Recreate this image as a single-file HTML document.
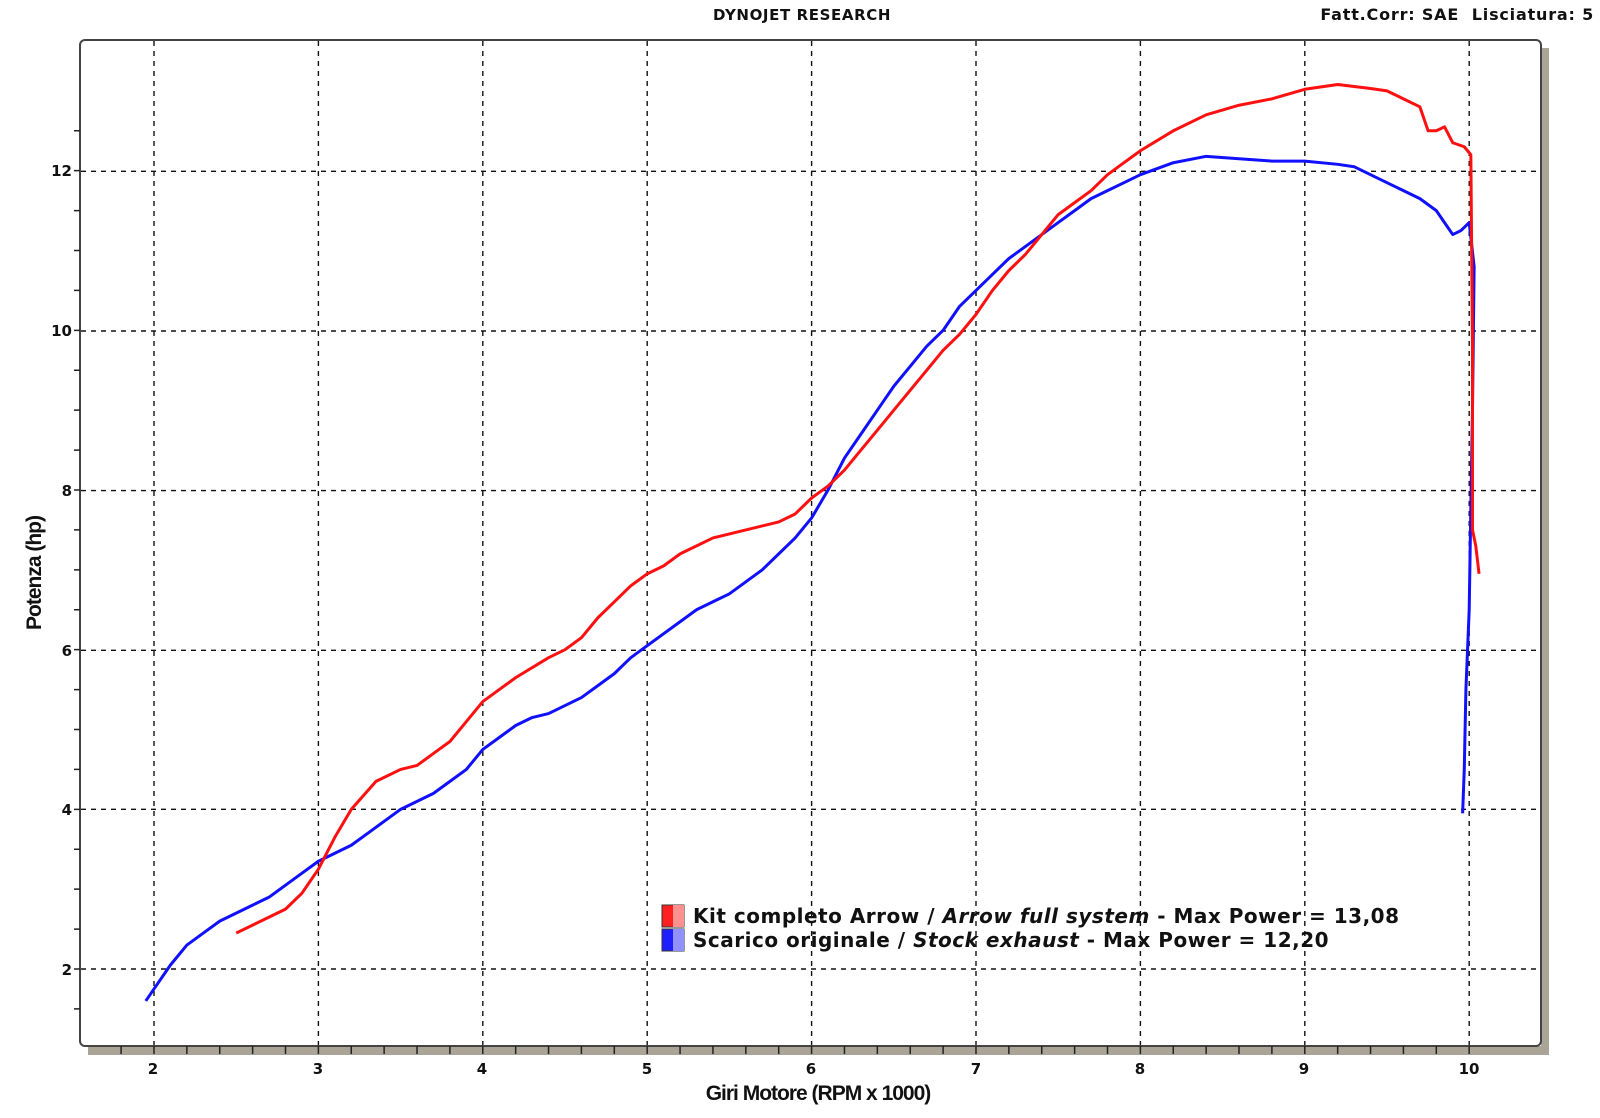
<!DOCTYPE html>
<html><head><meta charset="utf-8"><style>
html,body{margin:0;padding:0;background:#fff;}
svg{display:block;}
text{font-family:"DejaVu Sans","Liberation Sans",sans-serif;font-weight:bold;fill:#111;}
</style></head><body>
<svg width="1600" height="1118" viewBox="0 0 1600 1118" xmlns="http://www.w3.org/2000/svg">
<rect x="88" y="1046" width="1461" height="9" fill="#a9a496"/>
<rect x="1541" y="48" width="8" height="1007" fill="#a9a496"/>
<rect x="80" y="40" width="1461" height="1006" rx="5" fill="#fff" stroke="#444" stroke-width="2"/>
<g stroke="#111" stroke-width="1.4" stroke-dasharray="5,5" fill="none">
<line x1="154" y1="41" x2="154" y2="1045"/><line x1="318.4" y1="41" x2="318.4" y2="1045"/>
<line x1="482.8" y1="41" x2="482.8" y2="1045"/><line x1="647.2" y1="41" x2="647.2" y2="1045"/>
<line x1="811.6" y1="41" x2="811.6" y2="1045"/><line x1="976" y1="41" x2="976" y2="1045"/>
<line x1="1140.4" y1="41" x2="1140.4" y2="1045"/><line x1="1304.8" y1="41" x2="1304.8" y2="1045"/>
<line x1="1469.2" y1="41" x2="1469.2" y2="1045"/>
<line x1="81" y1="171.3" x2="1540" y2="171.3"/><line x1="81" y1="331" x2="1540" y2="331"/>
<line x1="81" y1="490.6" x2="1540" y2="490.6"/><line x1="81" y1="650.3" x2="1540" y2="650.3"/>
<line x1="81" y1="809.3" x2="1540" y2="809.3"/><line x1="81" y1="969" x2="1540" y2="969"/>
</g>
<path stroke="#222" stroke-width="1.5" fill="none" d="M121.1,1046 v8 m32.88,-8 v8 m32.88,-8 v8 m32.88,-8 v8 m32.88,-8 v8 m32.88,-8 v8 m32.88,-8 v8 m32.88,-8 v8 m32.88,-8 v8 m32.88,-8 v8 m32.88,-8 v8 m32.88,-8 v8 m32.88,-8 v8 m32.88,-8 v8 m32.88,-8 v8 m32.88,-8 v8 m32.88,-8 v8 m32.88,-8 v8 m32.88,-8 v8 m32.88,-8 v8 m32.88,-8 v8 m32.88,-8 v8 m32.88,-8 v8 m32.88,-8 v8 m32.88,-8 v8 m32.88,-8 v8 m32.88,-8 v8 m32.88,-8 v8 m32.88,-8 v8 m32.88,-8 v8 m32.88,-8 v8 m32.88,-8 v8 m32.88,-8 v8 m32.88,-8 v8 m32.88,-8 v8 m32.88,-8 v8 m32.88,-8 v8 m32.88,-8 v8 m32.88,-8 v8 m32.88,-8 v8 m32.88,-8 v8 m32.88,-8 v8"/>
<path stroke="#222" stroke-width="1.5" fill="none" d="M74,1008.9 h6 m-6,-39.915 h6 m-6,-39.915 h6 m-6,-39.915 h6 m-6,-39.915 h6 m-6,-39.915 h6 m-6,-39.915 h6 m-6,-39.915 h6 m-6,-39.915 h6 m-6,-39.915 h6 m-6,-39.915 h6 m-6,-39.915 h6 m-6,-39.915 h6 m-6,-39.915 h6 m-6,-39.915 h6 m-6,-39.915 h6 m-6,-39.915 h6 m-6,-39.915 h6 m-6,-39.915 h6 m-6,-39.915 h6 m-6,-39.915 h6 m-6,-39.915 h6 m-6,-39.915 h6"/>
<g font-size="15" text-anchor="end">
<text x="72" y="176">12</text><text x="72" y="336">10</text><text x="72" y="496">8</text>
<text x="72" y="656">6</text><text x="72" y="815">4</text><text x="72" y="975">2</text>
</g>
<g font-size="15" text-anchor="middle">
<text x="153" y="1074">2</text><text x="318" y="1074">3</text><text x="482" y="1074">4</text>
<text x="647" y="1074">5</text><text x="811" y="1074">6</text><text x="976" y="1074">7</text>
<text x="1140" y="1074">8</text><text x="1304" y="1074">9</text><text x="1469" y="1074">10</text>
</g>
<text x="802" y="20" font-size="15" text-anchor="middle" style="letter-spacing:0.6px">DYNOJET RESEARCH</text>
<text x="1594" y="20" font-size="16" text-anchor="end" style="letter-spacing:0.8px;white-space:pre" xml:space="preserve">Fatt.Corr: SAE  Lisciatura: 5</text>
<text x="818" y="1100" font-size="21" text-anchor="middle" style="font-family:'Liberation Sans',sans-serif;letter-spacing:-1px">Giri Motore (RPM x 1000)</text>
<text transform="translate(41,573) rotate(-90)" font-size="21" text-anchor="middle" style="font-family:'Liberation Sans',sans-serif;letter-spacing:-1px">Potenza (hp)</text>
<g transform="translate(-174.8,1128.66) scale(164.4,-79.83)" fill="none" stroke-linejoin="round">
<polyline vector-effect="non-scaling-stroke" stroke="#1010ff" stroke-width="3" points="1.95,1.6 2.0,1.75 2.1,2.05 2.2,2.3 2.3,2.45 2.4,2.6 2.5,2.7 2.6,2.8 2.7,2.9 2.8,3.05 2.9,3.2 3.0,3.35 3.1,3.45 3.2,3.55 3.3,3.7 3.4,3.85 3.5,4.0 3.6,4.1 3.7,4.2 3.8,4.35 3.9,4.5 4.0,4.75 4.1,4.9 4.2,5.05 4.3,5.15 4.4,5.2 4.5,5.3 4.6,5.4 4.7,5.55 4.8,5.7 4.9,5.9 5.0,6.05 5.1,6.2 5.2,6.35 5.3,6.5 5.4,6.6 5.5,6.7 5.6,6.85 5.7,7.0 5.8,7.2 5.9,7.4 6.0,7.65 6.1,8.0 6.2,8.4 6.3,8.7 6.4,9.0 6.5,9.3 6.6,9.55 6.7,9.8 6.8,10.0 6.9,10.3 7.0,10.5 7.1,10.7 7.2,10.9 7.3,11.05 7.4,11.2 7.5,11.35 7.6,11.5 7.7,11.65 7.8,11.75 7.9,11.85 8.0,11.95 8.2,12.1 8.4,12.18 8.6,12.15 8.8,12.12 9.0,12.12 9.2,12.08 9.3,12.05 9.4,11.95 9.5,11.85 9.6,11.75 9.7,11.65 9.8,11.5 9.85,11.35 9.9,11.2 9.95,11.25 10.0,11.35 10.03,10.8 10.02,9.0 10.01,7.8 10.0,6.5 9.98,5.5 9.97,4.5 9.96,3.95"/>
<polyline vector-effect="non-scaling-stroke" stroke="#ff1010" stroke-width="3" points="2.5,2.45 2.6,2.55 2.8,2.75 2.9,2.95 3.0,3.25 3.1,3.65 3.2,4.0 3.35,4.35 3.5,4.5 3.6,4.55 3.7,4.7 3.8,4.85 3.9,5.1 4.0,5.35 4.1,5.5 4.2,5.65 4.4,5.9 4.5,6.0 4.6,6.15 4.7,6.4 4.8,6.6 4.9,6.8 5.0,6.95 5.1,7.05 5.2,7.2 5.4,7.4 5.6,7.5 5.8,7.6 5.9,7.7 6.0,7.9 6.1,8.05 6.2,8.25 6.3,8.5 6.4,8.75 6.5,9.0 6.6,9.25 6.7,9.5 6.8,9.75 6.9,9.95 7.0,10.2 7.1,10.5 7.2,10.75 7.3,10.95 7.4,11.2 7.5,11.45 7.6,11.6 7.7,11.75 7.8,11.95 7.9,12.1 8.0,12.25 8.2,12.5 8.4,12.7 8.6,12.82 8.8,12.9 9.0,13.02 9.2,13.08 9.4,13.03 9.5,13.0 9.6,12.9 9.7,12.8 9.75,12.5 9.8,12.5 9.85,12.55 9.9,12.35 9.97,12.3 10.01,12.2 10.02,9.8 10.02,7.5 10.04,7.3 10.06,6.95"/>
</g>
<rect x="662" y="905" width="22" height="22" fill="#ff2020" stroke="#333" stroke-width="1"/>
<rect x="673" y="905" width="11" height="22" fill="#ff9090"/>
<rect x="662" y="929" width="22" height="22" fill="#2020ff" stroke="#333" stroke-width="1"/>
<rect x="673" y="929" width="11" height="22" fill="#9090ff"/>
<text x="693" y="923" font-size="20" style="letter-spacing:0.5px">Kit completo Arrow / <tspan font-style="italic">Arrow full system</tspan> - Max Power = 13,08</text>
<text x="693" y="947" font-size="20" style="letter-spacing:0.5px">Scarico originale / <tspan font-style="italic">Stock exhaust</tspan> - Max Power = 12,20</text>
</svg>
</body></html>
